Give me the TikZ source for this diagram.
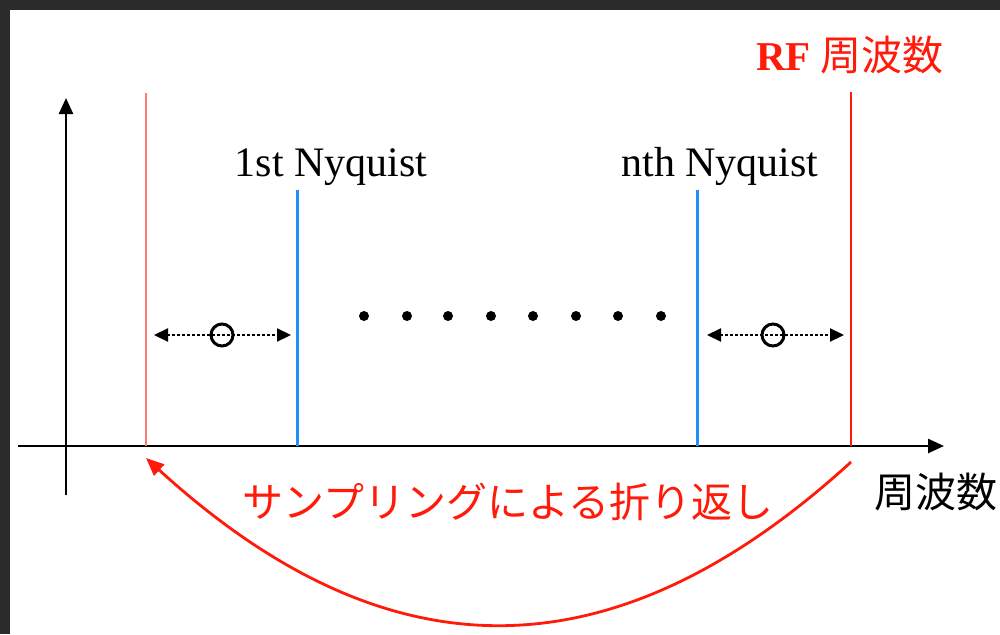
\documentclass[tikz,border=0pt]{standalone}
\usepackage{fontspec}
\setmainfont{Liberation Serif}
\newfontfamily\jpfont{Noto Sans CJK JP}
\usetikzlibrary{arrows.meta}
\definecolor{framegray}{HTML}{2B2B2B}
\definecolor{nyblue}{HTML}{1E90FF}
\definecolor{rfred}{HTML}{FF1A0A}
\definecolor{lightred}{HTML}{FF7A70}
\tikzset{
  axisline/.style={line width=2.5pt, black, -{Triangle[length=16pt,width=14pt]}},
  redline/.style={line width=2.4pt, rfred},
  lredline/.style={line width=2.4pt, lightred},
  blueline/.style={line width=3pt, nyblue},
  dotarrow/.style={line width=2.2pt, black, dash pattern=on 3pt off 2pt,
     {Triangle[length=14pt,width=13pt]}-{Triangle[length=14pt,width=13pt]}},
  minuscirc/.style={circle, draw, line width=3pt, minimum size=22pt, inner sep=0pt},
  bigdot/.style={circle, fill=black, minimum size=10pt, inner sep=0pt},
  latinlabel/.style={font=\fontsize{42}{46}\selectfont, inner sep=0pt, anchor=base},
  jplabel/.style={font=\jpfont\fontsize{41}{46}\selectfont, inner sep=0pt},
  foldarrow/.style={line width=2.8pt, rfred, -{Triangle[length=18pt,width=15pt]}}
}
\begin{document}
\begin{tikzpicture}[x=1pt,y=-1pt]
\useasboundingbox (0,0) rectangle (1000,634);
\fill[white] (0,0) rectangle (1000,634);
\fill[framegray] (0,0) rectangle (1000,10);
\fill[framegray] (0,0) rectangle (10,634);

% axes
\coordinate (ybot) at (66,495);
\coordinate (ytop) at (66,98);
\coordinate (xleft) at (18,446);
\coordinate (xright) at (944,446);
\draw[axisline] (ybot) -- (ytop);
\draw[axisline] (xleft) -- (xright);

% vertical lines
\coordinate (l1t) at (146,93);  \coordinate (l1b) at (146,446);
\coordinate (b1t) at (297,190); \coordinate (b1b) at (297,446);
\coordinate (b2t) at (697,190); \coordinate (b2b) at (697,446);
\coordinate (r1t) at (851,92);  \coordinate (r1b) at (851,446);
\draw[lredline] (l1t) -- (l1b);
\draw[blueline] (b1t) -- (b1b);
\draw[blueline] (b2t) -- (b2b);
\draw[redline] (r1t) -- (r1b);

% labels
\node[latinlabel] (first) at (331,176) {1st Nyquist};
\node[latinlabel] (nth) at (720,176) {nth Nyquist};
\node[inner sep=0pt, text=rfred] (rf) at (850,55)
  {\fontsize{41}{46}\selectfont\bfseries RF {\jpfont\mdseries\fontsize{41}{46}\selectfont 周波数}};
\node[jplabel] (freq) at (936,492) {周波数};
\node[jplabel, text=rfred] (fold) at (508,502) {サンプリングによる折り返し};

% dots
\foreach \i/\x in {1/364,2/407,3/448,4/491,5/533,6/576,7/618,8/661}
  \node[bigdot] (d\i) at (\x,316) {};

% dotted double arrows with circles
\coordinate (la) at (154,335); \coordinate (lb) at (291,335);
\coordinate (ra) at (707,335); \coordinate (rb) at (844,335);
\draw[dotarrow] (la) -- (lb);
\draw[dotarrow] (ra) -- (rb);
\node[minuscirc] (c1) at (222,335) {};
\node[minuscirc] (c2) at (773,335) {};

% folding arrow
\coordinate (fs) at (851,462);
\coordinate (fe) at (146,458);
\draw[foldarrow] (fs) .. controls (611,681) and (386,677) .. (fe);
\end{tikzpicture}
\end{document}
